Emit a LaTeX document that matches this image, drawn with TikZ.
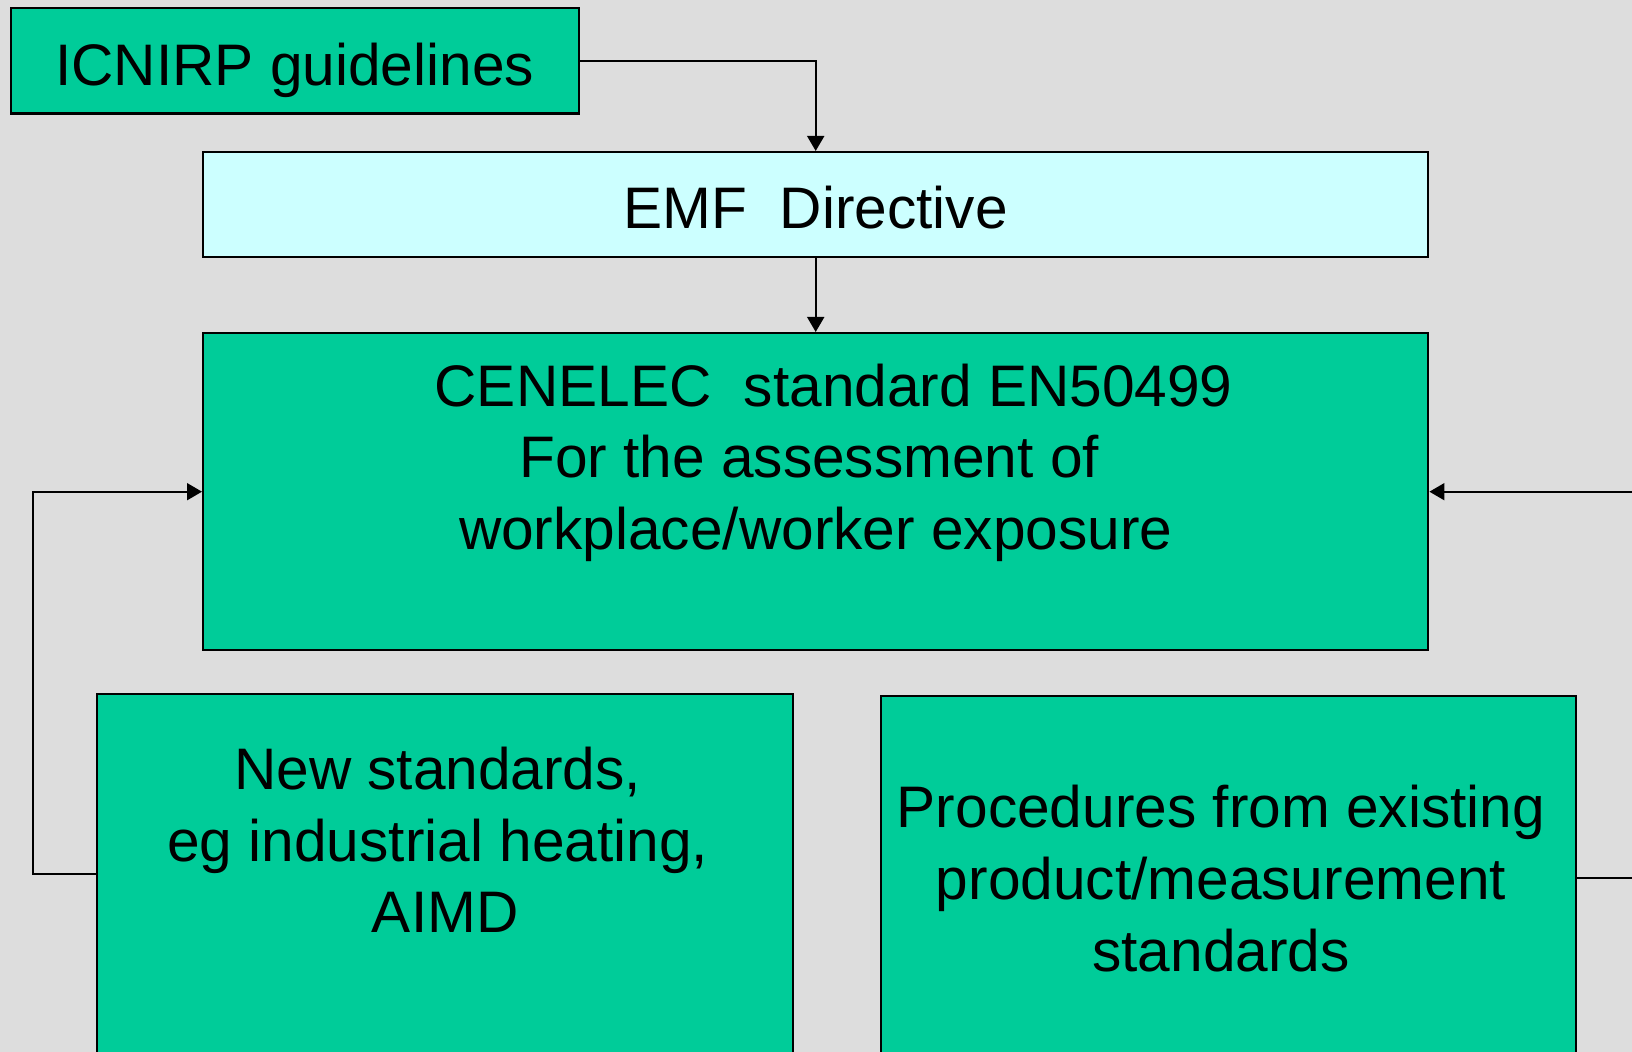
\documentclass[tikz,border=0pt]{standalone}
\usepackage{fontspec}
\setmainfont{Liberation Sans}
\usepackage{tikz}
\usetikzlibrary{calc,arrows.meta}
\definecolor{slidegray}{HTML}{DDDDDD}
\definecolor{boxgreen}{HTML}{00CC99}
\definecolor{boxcyan}{HTML}{CCFFFF}
\newcommand{\boxtext}[2][0pt]{\begin{tabular}[t]{@{}c@{\hspace{#1}}}#2\end{tabular}}
\tikzset{
  slidebox/.style={draw=black, line width=1.2pt, anchor=north west, inner sep=0pt,
                   font=\fontsize{29.3}{35.8}\selectfont},
  link/.style={line width=0.9pt, -{Triangle[length=7.5pt,width=8.5pt]}},
}

\begin{document}
\begin{tikzpicture}[x=0.5pt,y=-0.5pt]
    \useasboundingbox (0,0) rectangle (1632,1052);
    \clip (0,0) rectangle (1632,1052);
    \fill[slidegray] (0,0) rectangle (1632,1052);

    \node[slidebox, fill=boxgreen, minimum width=284pt, text height=38.5pt, text depth=14.25pt]
        (icnirp) at (9.5,7) {\boxtext{ICNIRP guidelines}};
    \node[slidebox, fill=boxcyan, minimum width=612.5pt, text height=38pt, text depth=14.5pt]
        (emf) at (202,151) {\boxtext{EMF\ \ Directive}};
    \node[slidebox, fill=boxgreen, minimum width=612.5pt, text height=36.5pt, text depth=122pt]
        (cenelec) at (202,332) {\boxtext{\kern18pt CENELEC\ \ standard EN50499\\For the assessment of\kern6.5pt\\workplace/worker exposure}};
    \node[slidebox, fill=boxgreen, minimum width=348pt, text height=47.7pt, text depth=155.8pt]
        (newstd) at (96,693) {\boxtext{New standards,\kern7.5pt\\eg industrial heating,\kern7.5pt\\AIMD}};
    \node[slidebox, fill=boxgreen, minimum width=347.75pt, text height=65.85pt, text depth=136.65pt]
        (procs) at (879.5,695) {\boxtext[7.5pt]{Procedures from existing\\product/measurement\\standards}};

    \draw[link] (icnirp.east) -| (emf.north);
    \draw[link] (emf.south) -- (cenelec.north);
    \draw[link] ($(newstd.north west)+(0,181)$) -- ++(-63.3,0) |- (cenelec.west);
    \draw[link] ($(procs.north east)+(0,183)$) -- ++(100,0) |- (cenelec.east);
\end{tikzpicture}
\end{document}
